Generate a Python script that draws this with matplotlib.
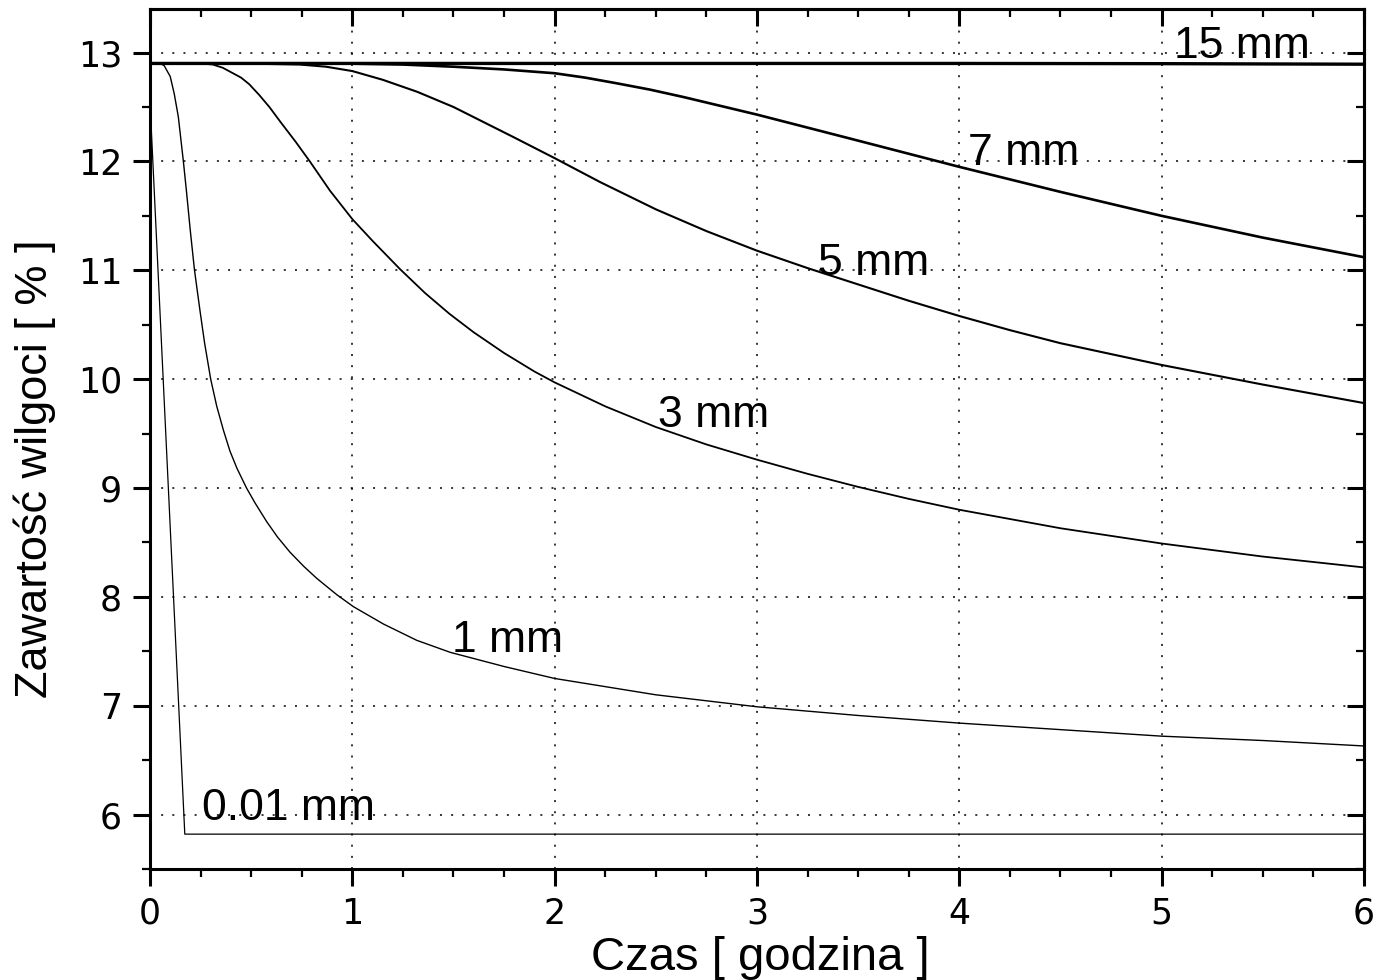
import numpy as np
import matplotlib
matplotlib.use("Agg")
import matplotlib.pyplot as plt
from matplotlib.ticker import MultipleLocator

# Moisture content vs drying time for several layer thicknesses
t_15 = [0.0, 1.0, 2.0, 3.0, 4.0, 5.0, 6.0]
m_15 = [12.9, 12.9, 12.9, 12.9, 12.9, 12.898, 12.893]

t_7 = [0.0, 0.5, 1.0, 1.25, 1.5, 1.75, 2.0, 2.15, 2.3, 2.47, 2.64, 2.82, 3.0, 3.23, 3.46,
       3.73, 4.0, 4.5, 5.0, 5.5, 6.0]
m_7 = [12.9, 12.9, 12.898, 12.89, 12.87, 12.845, 12.81, 12.77, 12.72, 12.66, 12.59,
       12.51, 12.43, 12.32, 12.21, 12.08, 11.95, 11.72, 11.50, 11.30, 11.12]

t_5 = [0.0, 0.3, 0.5, 0.74, 0.87, 1.0, 1.15, 1.32, 1.5, 1.65, 1.8, 2.0, 2.225, 2.5, 2.75,
       3.0, 3.25, 3.5, 3.75, 4.0, 4.25, 4.5, 4.75, 5.0, 5.5, 6.0]
m_5 = [12.9, 12.9, 12.898, 12.89, 12.87, 12.83, 12.75, 12.64, 12.5, 12.36, 12.22, 12.03,
       11.81, 11.56, 11.36, 11.18, 11.02, 10.87, 10.72, 10.58, 10.45, 10.33, 10.23, 10.13,
       9.95, 9.78]

t_3 = [0.0, 0.25, 0.31, 0.36, 0.4, 0.45, 0.49, 0.54, 0.59, 0.65, 0.72, 0.79, 0.89, 1.0,
       1.1, 1.236, 1.36, 1.48, 1.6, 1.75, 1.9, 2.0, 2.25, 2.5, 2.75, 3.0, 3.25, 3.5, 3.75,
       4.0, 4.5, 5.0, 5.5, 6.0]
m_3 = [12.9, 12.9, 12.89, 12.86, 12.82, 12.77, 12.71, 12.61, 12.5, 12.35, 12.18, 12.0,
       11.73, 11.47, 11.27, 11.01, 10.79, 10.6, 10.43, 10.24, 10.07, 9.97, 9.75, 9.56, 9.40,
       9.26, 9.13, 9.01, 8.9, 8.8, 8.63, 8.49, 8.37, 8.27]

t_1 = [0.0, 0.05, 0.07, 0.1, 0.12, 0.14, 0.165, 0.18, 0.2, 0.22, 0.247, 0.27, 0.30, 0.33,
       0.363, 0.395, 0.43, 0.477, 0.52, 0.577, 0.63, 0.692, 0.76, 0.824, 0.923, 1.005, 1.154,
       1.319, 1.484, 1.75, 2.0, 2.5, 3.0, 3.5, 4.0, 4.5, 5.0, 5.5, 6.0]
m_1 = [12.9, 12.9, 12.88, 12.78, 12.62, 12.41, 12.0, 11.73, 11.35, 11.0, 10.63, 10.33,
       10.0, 9.75, 9.53, 9.34, 9.18, 9.0, 8.86, 8.69, 8.55, 8.41, 8.28, 8.17, 8.02, 7.91,
       7.75, 7.6, 7.49, 7.36, 7.25, 7.1, 6.99, 6.91, 6.84, 6.78, 6.72, 6.68, 6.63]

t_001 = [0.0, 0.172, 6.0]
m_001 = [12.55, 5.82, 5.82]

series = [
    (t_001, m_001, 0.9),
    (t_1, m_1, 1.0),
    (t_3, m_3, 1.3),
    (t_5, m_5, 1.5),
    (t_7, m_7, 1.9),
    (t_15, m_15, 2.4),
]

labels = ["0.01 mm", "1 mm", "3 mm", "5 mm", "7 mm", "15 mm"]
label_x = [0.256, 1.494, 2.51, 3.30, 4.045, 5.06]
label_y = [5.95, 7.49, 9.56, 10.96, 11.97, 12.95]

fig = plt.figure(figsize=(13.85, 9.8), dpi=100)
ax = fig.add_axes([0.1083, 0.1133, 0.8765, 0.8775])

for t, m, lw in series:
    ax.plot(t, m, color="black", lw=lw, solid_joinstyle="round")

for s, x, y in zip(labels, label_x, label_y):
    ax.text(x, y, s, fontsize=32, family="Liberation Sans", va="baseline", ha="left")

ax.set_xlim(0, 6)
ax.set_ylim(5.5, 13.4)
ax.xaxis.set_major_locator(MultipleLocator(1))
ax.xaxis.set_minor_locator(MultipleLocator(0.25))
ax.yaxis.set_major_locator(MultipleLocator(1))
ax.yaxis.set_minor_locator(MultipleLocator(0.5))

ax.grid(True, which="major", color="black", lw=1.1, linestyle=(0, (1.3, 6)))

for sp in ax.spines.values():
    sp.set_linewidth(2.2)

ax.tick_params(which="major", direction="out", length=12, width=2.2, labelsize=25,
               pad=8)
ax.tick_params(which="minor", direction="out", length=5.8, width=1.6)

# mirrored ticks on top and right, pointing inward
top = ax.secondary_xaxis("top")
top.xaxis.set_major_locator(MultipleLocator(1))
top.xaxis.set_minor_locator(MultipleLocator(0.25))
top.tick_params(which="major", direction="in", length=12, width=2.2, labeltop=False)
top.tick_params(which="minor", direction="in", length=5.8, width=1.6)
right = ax.secondary_yaxis("right")
right.yaxis.set_major_locator(MultipleLocator(1))
right.yaxis.set_minor_locator(MultipleLocator(0.5))
right.tick_params(which="major", direction="in", length=12, width=2.2, labelright=False)
right.tick_params(which="minor", direction="in", length=5.8, width=1.6)
for a in (top, right):
    for sp in a.spines.values():
        sp.set_linewidth(2.2)

ax.set_xlabel("Czas [ godzina ]", fontsize=34, family="Liberation Sans")
ax.set_ylabel("Zawartość wilgoci [ % ]", fontsize=32.5, family="Liberation Sans")
ax.xaxis.set_label_coords(0.503, -0.103)
ax.yaxis.set_label_coords(-0.0947, 0.465)
ax.xaxis.label.set_va("center")
ax.yaxis.label.set_va("center")

fig.savefig("out.png", dpi=100)
